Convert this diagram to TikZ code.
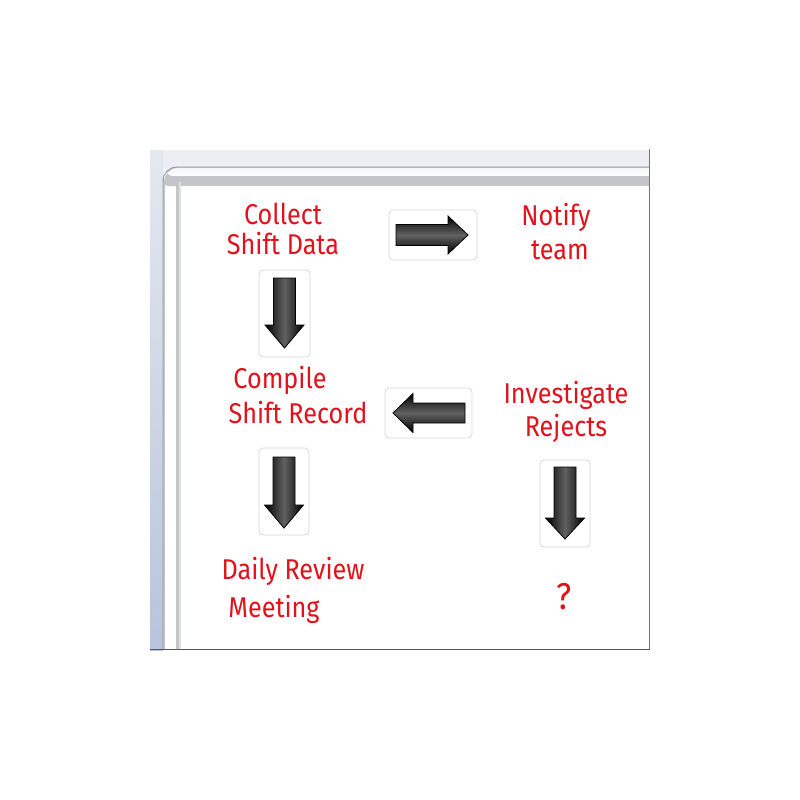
\documentclass[tikz,border=0pt]{standalone}
\usepackage{fontspec}
\setmainfont{Fira Sans}
\definecolor{marker}{RGB}{226,18,28}
\definecolor{backdrop}{RGB}{236,238,243}
\definecolor{stripTop}{RGB}{228,232,240}
\definecolor{stripBot}{RGB}{184,196,220}
\definecolor{barDark}{RGB}{150,150,156}
\definecolor{barMid}{RGB}{196,197,200}
\definecolor{barLight}{RGB}{246,247,249}
\definecolor{magnetEdge}{RGB}{214,214,214}
\tikzset{
  hand/.style={text=marker, font=\fontsize{26}{28}\selectfont, inner sep=0pt},
  magnet/.style={draw=magnetEdge, fill=white, rounded corners=4pt, line width=0.8pt, inner sep=0pt},
  arrowH/.style={draw=black, line width=0.8pt, top color=black, bottom color=black, middle color=black!62},
  arrowV/.style={draw=black, line width=0.8pt, left color=black, right color=black, middle color=black!62},
}
\newcommand{\handtext}[1]{\scalebox{0.97}[1.1]{#1}}
\begin{document}
\begin{tikzpicture}[x=1pt,y=-1pt]
\useasboundingbox (0,0) rectangle (800,800);
\fill[white] (0,0) rectangle (800,800);
% backdrop behind the board
\fill[backdrop] (150,150) rectangle (650,650);
\shade[top color=stripTop, bottom color=stripBot] (150,150) rectangle (163,650);
% aluminium frame
\begin{scope}
  \clip (150,150) rectangle (649.5,649);
  \fill[barMid, rounded corners=14pt] (163,167) rectangle (700,700);
  \shade[top color=barLight, bottom color=white, rounded corners=14pt] (164,168) rectangle (700,178);
  \fill[white, rounded corners=10pt] (165,178) rectangle (700,700);
  \draw[barDark, line width=0.9pt, rounded corners=14pt] (163,700) -- (163,167) -- (700,167);
  \fill[barMid, rounded corners=3pt] (165,176) rectangle (700,186);
  \fill[barMid] (176,182) rectangle (179,700);
  \fill[black!12] (179,182) rectangle (181,700);
  \fill[white] (181,186) rectangle (700,700);
\end{scope}
\draw[black!55, line width=0.8pt] (649.5,149) -- (649.5,649);
\draw[black!65, line width=1pt] (150,649) -- (650,649);
% magnets
\node[magnet, minimum width=88pt, minimum height=50pt] (mRight) at (433,235) {};
\node[magnet, minimum width=51pt, minimum height=87pt] (mDownA) at (284.5,313.5) {};
\node[magnet, minimum width=87pt, minimum height=50pt] (mLeft) at (428.5,413) {};
\node[magnet, minimum width=50pt, minimum height=87pt] (mDownB) at (284,491.5) {};
\node[magnet, minimum width=50pt, minimum height=87pt] (mDownC) at (565,503.5) {};
% arrows on magnets
\path[arrowH, shift={(mRight.center)}] (-37,-10.5) -- (15,-10.5) -- (15,-19) -- (35,0) -- (15,19) -- (15,10.5) -- (-37,10.5) -- cycle;
\path[arrowH, shift={(mLeft.center)}] (36.5,-10) -- (-15.5,-10) -- (-15.5,-19.5) -- (-35.5,0) -- (-15.5,19.5) -- (-15.5,10) -- (36.5,10) -- cycle;
\path[arrowV, shift={(mDownA.center)}] (-11,-35.5) -- (11,-35.5) -- (11,11.5) -- (19.5,11.5) -- (0,34.5) -- (-19.5,11.5) -- (-11,11.5) -- cycle;
\path[arrowV, shift={(mDownB.center)}] (-11,-34.5) -- (11,-34.5) -- (11,13.5) -- (19.5,13.5) -- (0,36.5) -- (-19.5,13.5) -- (-11,13.5) -- cycle;
\path[arrowV, shift={(mDownC.center)}] (-11,-36.5) -- (11,-36.5) -- (11,14.5) -- (19.5,14.5) -- (0,35.5) -- (-19.5,14.5) -- (-11,14.5) -- cycle;
% handwritten labels
\node[hand] (tCollect) at (283,214) {\handtext{Collect}};
\node[hand] (tShiftData) at (283,244) {\handtext{Shift Data}};
\node[hand] (tNotify) at (556,217) {\handtext{Notify}};
\node[hand] (tTeam) at (560,250) {\handtext{team}};
\node[hand] (tCompile) at (280,380) {\handtext{Compile}};
\node[hand] (tShiftRecord) at (298,413) {\handtext{Shift Record}};
\node[hand] (tInvestigate) at (566,395) {\handtext{Investigate}};
\node[hand] (tRejects) at (566,428) {\handtext{Rejects}};
\node[hand] (tDaily) at (293,571) {\handtext{Daily Review}};
\node[hand] (tMeeting) at (274,609) {\handtext{Meeting}};
\node[hand, font=\fontsize{34}{36}\selectfont] (tQuestion) at (564,597) {\handtext{?}};
\end{tikzpicture}
\end{document}
